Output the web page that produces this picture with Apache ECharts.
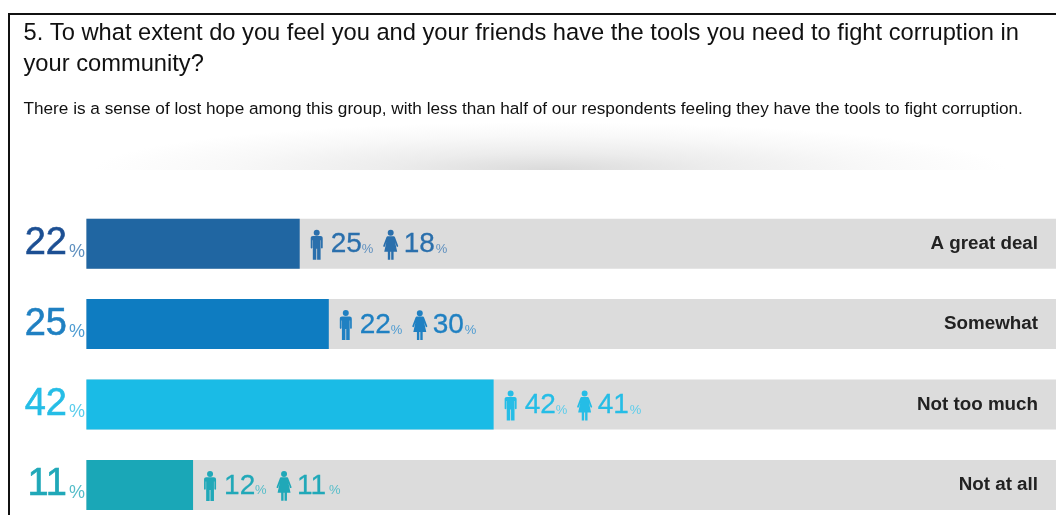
<!DOCTYPE html>
<html><head><meta charset="utf-8">
<style>html,body{margin:0;padding:0;background:#fff;overflow:hidden}#c{width:1056px;height:515px}</style>
<script src="https://cdn.jsdelivr.net/npm/echarts@6/dist/echarts.min.js"></script>
</head><body><div id="c"></div>
<script>
const categories = ['A great deal', 'Somewhat', 'Not too much', 'Not at all'];
const overall = [22, 25, 42, 11];
const men = [25, 22, 42, 12];
const women = [18, 30, 41, 11];
const scaleMax = [100, 100, 100, 100];
const barColors = ['#2066a2', '#0e7cc1', '#1abbe6', '#1aa7b7'];
const numberColors = ['#1c4f93', '#1f80c2', '#25bde6', '#20a8b8'];
const smallColors = ['#2a6fac', '#1f80c2', '#25bde6', '#20a8b8'];
const pctColors = ['#5f90bf', '#4f9cd2', '#5ccdec', '#56bdc9'];
const titleText = '5. To what extent do you feel you and your friends have the tools you need to fight corruption in\nyour community?';
const subText = 'There is a sense of lost hope among this group, with less than half of our respondents feeling they have the tools to fight corruption.';
const FONT = '"Liberation Sans", Arial, sans-serif';
const manIcon = 'M6 0a3 3 0 1 1-.01 0zM2.2 6.4h7.6c1.3 0 2.2.9 2.2 2.2V18c0 1.1-1.7 1.1-1.7 0v-7.5h-.4V30H6.4V19h-.8v11H2.1V10.5h-.4V18c0 1.1-1.7 1.1-1.7 0V8.6c0-1.3.9-2.2 2.2-2.2z';
const womanIcon = 'M7.5 0a3 3 0 1 1-.01 0zM4.9 6.4h5.2c.9 0 1.5.5 1.8 1.3L15 16c.3 1.2-1.3 1.7-1.7.5l-1.4-4.3L14 22h-3.6v8H8v-8H7v8H4.6v-8H1l2.1-9.8-1.4 4.3C1.3 17.7-.3 17.2 0 16L3.1 7.7c.3-.8.9-1.3 1.8-1.3z';

function genderItem(params, api) {
  const i = params.dataIndex;
  const p = api.coord([overall[i], i]);
  const x = p[0], y = p[1];
  const txt = (left, text, size, fill, top, bw) => ({
    type: 'text', silent: true, style: { x: x + left, y: y + top, text: String(text), fill,
      stroke: fill, lineWidth: bw,
      font: size + 'px ' + FONT, textAlign: 'left', textVerticalAlign: 'middle' } });
  const icon = (left, w, path) => ({ type: 'path', silent: true,
    shape: { pathData: path, x: x + left, y: y - 14, width: w, height: 30, layout: 'center' },
    style: { fill: smallColors[i] } });
  return { type: 'group', children: [
    icon(10.5, 13, manIcon),
    txt(31, api.value(0), 28, smallColors[i], 1, 0.3),
    txt(62, '%', 13, pctColors[i], 6, 0),
    icon(83.5, 15, womanIcon),
    txt(104, api.value(1), 28, smallColors[i], 1, 0.3),
    txt(136, '%', 13, pctColors[i], 6, 0)
  ]};
}

const chart = echarts.init(document.getElementById('c'), null, { renderer: 'canvas' });
chart.setOption({
  animation: false,
  backgroundColor: '#fff',
  textStyle: { fontFamily: FONT },
  title: {
    text: titleText, left: 18.5, top: 13,
    textStyle: { fontFamily: FONT, fontSize: 23.7, fontWeight: 'normal', color: '#111', lineHeight: 31 },
    subtext: subText, itemGap: 21,
    subtextStyle: { fontFamily: FONT, fontSize: 17.2, color: '#111' }
  },
  grid: { left: 86.4, right: 0, top: 203.5, height: 321.6, outerBoundsMode: 'none' },
  xAxis: { type: 'value', min: 0, max: 100, show: false },
  yAxis: { type: 'category', inverse: true, data: categories, show: false },
  graphic: [
    { type: 'sector', x: 550, y: 170, scaleX: 9.5, z: 0, silent: true,
      shape: { cx: 0, cy: 0, r: 48, startAngle: Math.PI, endAngle: 2 * Math.PI },
      style: { fill: { type: 'radial', global: true, x: 0, y: 0, r: 48,
        colorStops: [{ offset: 0, color: '#dadada' }, { offset: 0.35, color: '#ececec' }, { offset: 0.7, color: '#f8f8f8' }, { offset: 1, color: '#ffffff' }] } } },
    { type: 'rect', silent: true, shape: { x: 8, y: 13, width: 1048, height: 2 }, style: { fill: '#111' } },
    { type: 'rect', silent: true, shape: { x: 8, y: 13, width: 2, height: 502 }, style: { fill: '#111' } }
  ],
  series: [
    { type: 'bar', data: scaleMax, barWidth: 50, barGap: '-100%', silent: true,
      itemStyle: { color: '#dcdcdc' },
      label: { show: true, position: 'insideRight', distance: 18,
        formatter: p => categories[p.dataIndex],
        fontFamily: FONT, fontSize: 18.8, color: '#222', fontWeight: 'bold' } },
    { type: 'bar', data: overall.map((v, i) => ({ value: v, itemStyle: { color: barColors[i] } })),
      barWidth: 50, barGap: '-100%', silent: true,
      label: { show: true, position: 'left', distance: 1.4,
        formatter: p => `{n${p.dataIndex}|${p.value}}{p${p.dataIndex}|%}`,
        rich: Object.assign({}, ...overall.map((_, i) => ({
          ['n' + i]: { fontFamily: FONT, fontSize: 38, color: numberColors[i], textBorderColor: numberColors[i], textBorderWidth: 0.6 },
          ['p' + i]: { fontFamily: FONT, fontSize: 18, color: pctColors[i], padding: [16, 0, 0, 2] }
        }))) } },
    { type: 'custom', silent: true, clip: false, z: 5, renderItem: genderItem,
      data: men.map((m, i) => [m, women[i]]), encode: { x: 0 } }
  ]
});
</script></body></html>
